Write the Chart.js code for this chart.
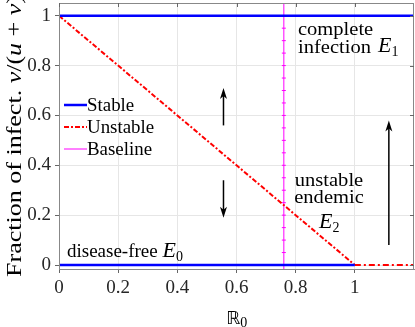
<!DOCTYPE html>
<html>
<head>
<meta charset="utf-8">
<script src="https://cdn.jsdelivr.net/npm/chart.js@4"></script>
<style>
  html, body { margin: 0; padding: 0; background: #fff; }
  #wrap { width: 415px; height: 327px; }
</style>
</head>
<body>
<div id="wrap"><canvas id="c" width="415" height="327"></canvas></div>
<script>
// data
const stableTop = [{ x: 0, y: 1 }, { x: 1.2, y: 1 }];
const stableBottom = [{ x: 0, y: 0 }, { x: 1, y: 0 }];
const unstableEndemic = [{ x: 0, y: 1 }, { x: 1, y: 0 }];
const unstableFree = [{ x: 1, y: 0 }, { x: 1.2, y: 0 }];
const baselineR0 = 0.76;
const baselineY = [-0.02, 0.05, 0.1, 0.15, 0.2, 0.25, 0.3, 0.35, 0.4, 0.45, 0.5, 0.55, 0.6, 0.65, 0.7, 0.75, 0.8, 0.85, 0.9, 0.95, 1, 1.05];
const xTicks = [0, 0.2, 0.4, 0.6, 0.8, 1];
const yTicks = [0, 0.2, 0.4, 0.6, 0.8, 1];
// arrows: [x, yFrom, yTo]
const arrows = [
  [0.556, 0.56, 0.71],
  [0.556, 0.34, 0.19],
  [1.115, 0.08, 0.58]
];

const SERIF = '"Liberation Serif", "DejaVu Serif", serif';

// text stretched a bit wider, closer to the LaTeX font of the original
function wideText(ctx, txt, x, y, sx) {
  ctx.save();
  ctx.translate(x, y);
  ctx.scale(sx, 1);
  ctx.fillText(txt, 0, 0);
  ctx.restore();
  return ctx.measureText(txt).width * sx;
}

const decor = {
  id: 'decor',
  afterDraw(chart) {
    const ctx = chart.ctx;
    const xs = chart.scales.x, ys = chart.scales.y;
    const a = chart.chartArea;
    ctx.save();

    // mirrored ticks right/top
    ctx.strokeStyle = '#666';
    ctx.lineWidth = 1;
    yTicks.forEach(v => {
      const py = Math.round(ys.getPixelForValue(v)) + 0.5;
      ctx.beginPath(); ctx.moveTo(a.right, py); ctx.lineTo(a.right - 4, py); ctx.stroke();
    });
    xTicks.forEach(v => {
      const px = Math.round(xs.getPixelForValue(v)) + 0.5;
      ctx.beginPath(); ctx.moveTo(px, a.top); ctx.lineTo(px, a.top + 4); ctx.stroke();
    });

    // arrows
    ctx.strokeStyle = '#000';
    ctx.fillStyle = '#000';
    ctx.lineWidth = 1.5;
    arrows.forEach(([x, y0, y1]) => {
      const px = xs.getPixelForValue(x);
      const p0 = ys.getPixelForValue(y0), p1 = ys.getPixelForValue(y1);
      const dir = p1 < p0 ? -1 : 1;
      ctx.beginPath(); ctx.moveTo(px, p0); ctx.lineTo(px, p1 - dir * 6); ctx.stroke();
      ctx.beginPath();
      ctx.moveTo(px, p1);
      ctx.lineTo(px - 3.5, p1 - dir * 11);
      ctx.lineTo(px, p1 - dir * 8);
      ctx.lineTo(px + 3.5, p1 - dir * 11);
      ctx.closePath(); ctx.fill();
    });

    // text annotations
    ctx.fillStyle = '#000';
    ctx.textBaseline = 'alphabetic';
    ctx.textAlign = 'left';
    const sub = (x, y, main, s, size) => {
      ctx.font = 'italic ' + size + 'px ' + SERIF;
      const w = wideText(ctx, main, x, y, 1.1);
      ctx.font = Math.round(size * 0.7) + 'px ' + SERIF;
      ctx.fillText(s, x + w, y + 4);
      return w;
    };
    ctx.font = '19px ' + SERIF;
    wideText(ctx, 'complete', 298, 35, 1.08);
    wideText(ctx, 'infection', 298, 53, 1.08);
    sub(378, 52, 'E', '1', 20);
    ctx.font = '19px ' + SERIF;
    const uw = ctx.measureText('unstable').width * 1.08;
    wideText(ctx, 'unstable', 329 - uw / 2, 186, 1.08);
    const ew = ctx.measureText('endemic').width * 1.08;
    wideText(ctx, 'endemic', 329 - ew / 2, 203, 1.08);
    sub(319, 228, 'E', '2', 20);
    ctx.font = '19px ' + SERIF;
    const dw = wideText(ctx, 'disease-free ', 67, 257, 1.0);
    sub(67 + dw, 257, 'E', '0', 20);

    // legend
    const items = [
      { label: 'Stable', color: '#0000ff', dash: [], width: 2.5 },
      { label: 'Unstable', color: '#ff0000', dash: [5, 2, 2, 2], width: 2 },
      { label: 'Baseline', color: '#ff00ff', dash: [], width: 1 }
    ];
    items.forEach((it, i) => {
      const y = 105 + i * 22;
      ctx.strokeStyle = it.color;
      ctx.lineWidth = it.width;
      ctx.setLineDash(it.dash);
      ctx.beginPath(); ctx.moveTo(64, y); ctx.lineTo(87, y); ctx.stroke();
      ctx.setLineDash([]);
      ctx.fillStyle = '#000';
      ctx.font = '18px ' + SERIF;
      ctx.textBaseline = 'middle';
      wideText(ctx, it.label, 87, y + 1, 1.05);
    });

    // y title with italic variables
    ctx.translate(15, (a.top + a.bottom) / 2);
    ctx.rotate(-Math.PI / 2);
    ctx.textBaseline = 'middle';
    const parts = [
      ['Fraction of infect. ', ''], ['v', 'italic '], ['/(', ''], ['u', 'italic '],
      [' + ', ''], ['v', 'italic '], [')', '']
    ];
    let total = 0;
    parts.forEach(p => { ctx.font = p[1] + '21px ' + SERIF; total += ctx.measureText(p[0]).width; });
    const sx = 282 / total;
    let cx = -141;
    parts.forEach(p => {
      ctx.font = p[1] + '21px ' + SERIF;
      cx += wideText(ctx, p[0], cx, 0, sx);
    });
    ctx.restore();

    // x title: double-struck R with subscript 0
    ctx.save();
    ctx.fillStyle = '#000';
    ctx.textBaseline = 'alphabetic';
    ctx.font = '18px "DejaVu Sans", sans-serif';
    ctx.fillText('\u211D', 226, 324);
    const rw = ctx.measureText('\u211D').width;
    ctx.font = '14px ' + SERIF;
    ctx.fillText('0', 226 + rw, 327);
    ctx.restore();
  }
};

new Chart(document.getElementById('c'), {
  type: 'scatter',
  data: {
    datasets: [
      { label: 'Stable', data: stableTop, showLine: true, borderColor: '#0000ff', borderWidth: 2.5, pointRadius: 0 },
      { label: 'StableB', data: stableBottom, showLine: true, borderColor: '#0000ff', borderWidth: 2.5, pointRadius: 0 },
      { label: 'Unstable', data: unstableEndemic, showLine: true, borderColor: '#ff0000', borderWidth: 2, borderDash: [5, 2, 2, 2], pointRadius: 0 },
      { label: 'UnstableB', data: unstableFree, showLine: true, borderColor: '#ff0000', borderWidth: 2, borderDash: [6, 3, 2, 3], pointRadius: 0 },
      {
        label: 'Baseline', data: baselineY.map(y => ({ x: baselineR0, y: y })), showLine: true,
        borderColor: '#ff00ff', borderWidth: 1, pointStyle: 'line', pointRadius: 2,
        pointBorderColor: '#ff00ff', pointBorderWidth: 1
      }
    ]
  },
  options: {
    responsive: false,
    animation: false,
    clip: true,
    layout: { autoPadding: false, padding: { top: 3, right: 1, left: 0, bottom: 0 } },
    plugins: { legend: { display: false }, tooltip: { enabled: false } },
    scales: {
      x: {
        type: 'linear', min: 0, max: 1.2,
        afterBuildTicks: s => { s.ticks = xTicks.map(v => ({ value: v })); },
        afterFit: s => { s.height = 58; s.paddingLeft = 0; s.paddingRight = 0; },
        grid: { color: '#e6e6e6', drawTicks: true, tickLength: 4, tickColor: '#666' },
        border: { color: '#888', width: 1 },
        ticks: { color: '#262626', font: { family: SERIF, size: 19 }, padding: 4, maxRotation: 0, callback: v => String(v) }
      },
      y: {
        type: 'linear', min: -0.016, max: 1.051,
        afterBuildTicks: s => { s.ticks = yTicks.map(v => ({ value: v })); },
        afterFit: s => { s.width = 59; s.paddingTop = 0; s.paddingBottom = 0; },
        grid: { color: '#e6e6e6', drawTicks: true, tickLength: 4, tickColor: '#666' },
        border: { color: '#888', width: 1 },
        ticks: { color: '#262626', font: { family: SERIF, size: 19 }, padding: 4, callback: v => String(v) }
      }
    }
  },
  plugins: [decor, {
    id: 'box',
    afterDatasetsDraw(chart) {
      const a = chart.chartArea, ctx = chart.ctx;
      ctx.save();
      ctx.strokeStyle = '#888';
      ctx.lineWidth = 1;
      ctx.strokeRect(a.left + 0.5, a.top + 0.5, a.right - a.left - 1, a.bottom - a.top);
      ctx.restore();
    }
  }]
});
</script>
</body>
</html>
